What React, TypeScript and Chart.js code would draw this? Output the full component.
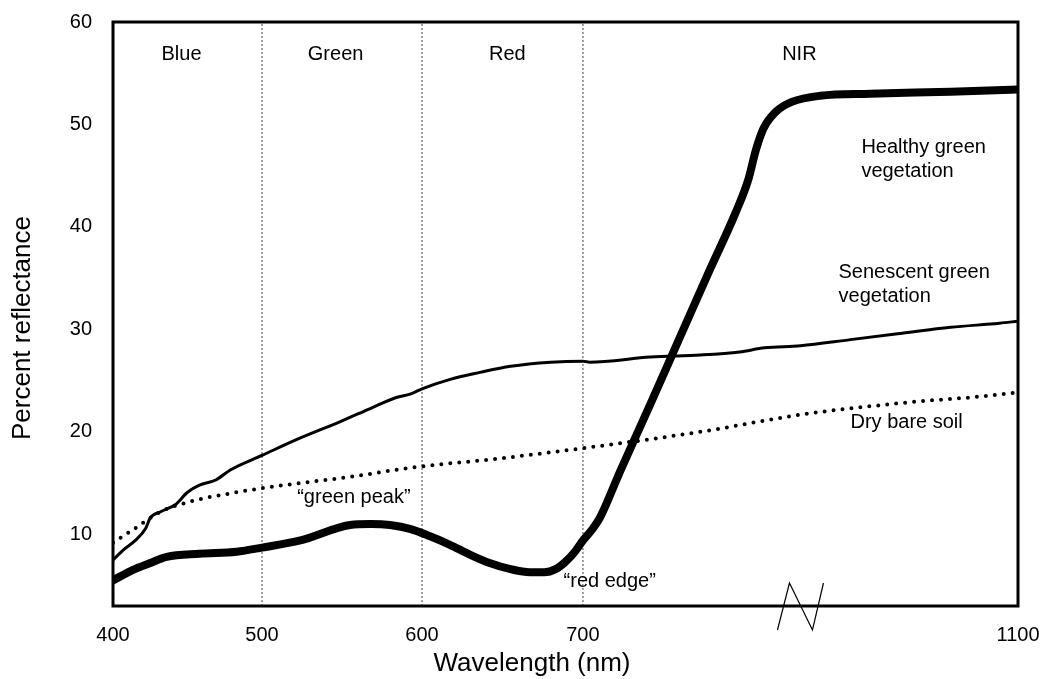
import React, { useEffect, useRef } from 'react';
import { Chart, registerables } from 'chart.js';

Chart.register(...registerables);

// ---------- axis definition ----------
const TICK_NM = [400, 500, 600, 700, 1100];
// relative length of each axis segment between the ticks (axis is broken after 700 nm)
const SEGMENT_POS = [0, 1, 2.074, 3.154, 6.074];
const Y_TICKS = [10, 20, 30, 40, 50, 60];
const Y_MIN = 3;
const Y_MAX = 60;
const BREAK_NM = 900;
const X_TITLE = 'Wavelength (nm)';
const Y_TITLE = 'Percent reflectance';

// ---------- band labels / dividers ----------
const BAND_NAMES = ['Blue', 'Green', 'Red', 'NIR'];
const BAND_LABEL_NM = [446, 546, 653, 899];
const BAND_LABEL_PCT = [56.8, 56.8, 56.8, 56.8];
const DIVIDER_NM = [500, 600, 700];

// ---------- series ----------
const HEALTHY_NM = [400, 413, 425, 436, 458, 483, 500, 524, 555, 568, 580, 593, 605, 617, 630, 642, 655, 667, 676, 683, 689, 695, 700, 708, 716, 734, 762, 789, 817, 840, 852, 859, 866, 877, 892, 918, 964, 1038, 1100];
const HEALTHY_PCT = [5.5, 6.5, 7.2, 7.8, 8.1, 8.3, 8.7, 9.4, 10.9, 11.0, 10.9, 10.5, 9.8, 9.0, 8.0, 7.2, 6.6, 6.3, 6.3, 6.6, 7.3, 8.3, 9.4, 10.4, 11.7, 16.1, 22.7, 29.2, 35.9, 41.3, 44.6, 47.5, 49.6, 51.2, 52.2, 52.8, 53.0, 53.2, 53.4];

const SENESCENT_NM = [400, 408, 415, 422, 425, 432, 442, 450, 458, 469, 479, 500, 524, 549, 568, 583, 593, 600, 617, 636, 655, 680, 700, 706, 762, 808, 844, 867, 900, 946, 992, 1038, 1083, 1100];
const SENESCENT_PCT = [7.5, 8.6, 9.4, 10.6, 11.6, 12.2, 12.9, 14.1, 14.8, 15.3, 16.3, 17.7, 19.4, 21.0, 22.3, 23.3, 23.7, 24.2, 25.1, 25.8, 26.4, 26.8, 26.9, 26.8, 27.3, 27.5, 27.8, 28.2, 28.4, 29.0, 29.6, 30.2, 30.6, 30.8];

const SOIL_NM = [400, 413, 432, 452, 479, 500, 524, 555, 593, 648, 700, 808, 902, 992, 1095, 1100];
const SOIL_PCT = [9.2, 10.4, 12.2, 13.2, 14.0, 14.5, 15.0, 15.6, 16.5, 17.4, 18.4, 20.0, 21.7, 22.8, 23.8, 23.9];

// ---------- annotations ----------
const NOTE_TEXT = ['Healthy green', 'vegetation', 'Senescent green', 'vegetation', 'Dry bare soil', '\u201Cgreen peak\u201D', '\u201Cred edge\u201D'];
const NOTE_NM = [956, 956, 935, 935, 946, 522, 688];
const NOTE_PCT = [47.8, 45.4, 35.6, 33.2, 20.9, 13.6, 5.4];

const FONT = '"Liberation Sans", Arial, Helvetica, sans-serif';

function toPos(nm: number): number {
  for (let i = 0; i < TICK_NM.length - 1; i++) {
    if (nm <= TICK_NM[i + 1] || i === TICK_NM.length - 2) {
      const f = (nm - TICK_NM[i]) / (TICK_NM[i + 1] - TICK_NM[i]);
      return SEGMENT_POS[i] + f * (SEGMENT_POS[i + 1] - SEGMENT_POS[i]);
    }
  }
  return 0;
}

function pts(xs: number[], ys: number[]) {
  return xs.map((v, i) => ({ x: toPos(v), y: ys[i] }));
}

const decorPlugin = {
  id: 'decor',
  afterDraw(chart: any) {
    const { ctx, chartArea: a, scales } = chart;
    const x = scales.x;
    const y = scales.y;
    ctx.save();
    // frame
    ctx.strokeStyle = '#000';
    ctx.lineWidth = 3;
    ctx.strokeRect(a.left, a.top, a.right - a.left, a.bottom - a.top);
    // axis break mark
    const bx = x.getPixelForValue(toPos(BREAK_NM));
    const by = a.bottom;
    ctx.lineWidth = 1.2;
    ctx.beginPath();
    ctx.moveTo(bx - 23, by + 24);
    ctx.lineTo(bx - 11, by - 23);
    ctx.lineTo(bx + 12, by + 24);
    ctx.lineTo(bx + 23, by - 23);
    ctx.stroke();
    // texts
    ctx.fillStyle = '#000';
    ctx.font = '20px ' + FONT;
    ctx.textBaseline = 'middle';
    ctx.textAlign = 'center';
    BAND_NAMES.forEach((t, i) => {
      ctx.fillText(t, x.getPixelForValue(toPos(BAND_LABEL_NM[i])), y.getPixelForValue(BAND_LABEL_PCT[i]));
    });
    ctx.textAlign = 'left';
    NOTE_TEXT.forEach((t, i) => {
      ctx.fillText(t, x.getPixelForValue(toPos(NOTE_NM[i])), y.getPixelForValue(NOTE_PCT[i]));
    });
    // axis titles
    ctx.textAlign = 'center';
    ctx.font = '26px ' + FONT;
    ctx.fillText(X_TITLE, a.left + 0.463 * (a.right - a.left), chart.height - 15);
    ctx.save();
    ctx.translate(23, a.top + 0.524 * (a.bottom - a.top));
    ctx.rotate(-Math.PI / 2);
    ctx.fillText(Y_TITLE, 0, 0);
    ctx.restore();
    ctx.restore();
  },
};

const hiddenGrid = (len: number) => ({
  display: true,
  drawOnChartArea: false,
  drawTicks: true,
  tickLength: len,
  color: 'rgba(0,0,0,0)',
});

export default function App() {
  const ref = useRef<HTMLCanvasElement | null>(null);

  useEffect(() => {
    if (!ref.current) return;
    Chart.defaults.font.family = FONT;
    Chart.defaults.color = '#000';

    const dividerSets = DIVIDER_NM.map((nm) => ({
      label: 'div' + nm,
      data: [{ x: toPos(nm), y: Y_MIN }, { x: toPos(nm), y: Y_MAX }],
      borderColor: '#444',
      borderWidth: 1,
      borderDash: [2, 2],
      pointRadius: 0,
      tension: 0,
    }));

    const chart = new Chart(ref.current, {
      type: 'line',
      data: {
        datasets: [
          {
            label: 'Healthy green vegetation',
            data: pts(HEALTHY_NM, HEALTHY_PCT),
            borderColor: '#000',
            borderWidth: 8,
            pointRadius: 0,
            cubicInterpolationMode: 'monotone',
            borderCapStyle: 'round',
            borderJoinStyle: 'round',
          },
          {
            label: 'Senescent green vegetation',
            data: pts(SENESCENT_NM, SENESCENT_PCT),
            borderColor: '#000',
            borderWidth: 3,
            pointRadius: 0,
            cubicInterpolationMode: 'monotone',
          },
          {
            label: 'Dry bare soil',
            data: pts(SOIL_NM, SOIL_PCT),
            borderColor: '#000',
            borderWidth: 4,
            borderDash: [0, 9],
            borderCapStyle: 'round',
            pointRadius: 0,
            cubicInterpolationMode: 'monotone',
          },
          ...dividerSets,
        ],
      } as any,
      options: {
        animation: false,
        responsive: false,
        layout: { padding: { top: 22, right: 30, left: 0, bottom: 0 } },
        plugins: { legend: { display: false }, tooltip: { enabled: false } },
        scales: {
          x: {
            type: 'linear',
            min: 0,
            max: SEGMENT_POS[SEGMENT_POS.length - 1],
            grid: hiddenGrid(17),
            border: { display: false },
            afterBuildTicks: (s: any) => {
              s.ticks = TICK_NM.map((v) => ({ value: toPos(v) }));
            },
            afterFit: (s: any) => {
              s.height = 73;
            },
            ticks: {
              autoSkip: false,
              maxRotation: 0,
              padding: 0,
              color: '#000',
              font: { size: 20 },
              callback: (_v: any, i: number) => String(TICK_NM[i]),
            },
            title: { display: false },
          },
          y: {
            type: 'linear',
            min: Y_MIN,
            max: Y_MAX,
            grid: hiddenGrid(21),
            border: { display: false },
            afterBuildTicks: (s: any) => {
              s.ticks = Y_TICKS.map((v) => ({ value: v }));
            },
            afterFit: (s: any) => {
              s.width = 113;
            },
            ticks: {
              padding: 0,
              color: '#000',
              font: { size: 20 },
            },
            title: { display: false },
          },
        },
      } as any,
      plugins: [decorPlugin],
    });
    return () => chart.destroy();
  }, []);

  return (
    <div style={{ position: 'fixed', left: 0, top: 0, width: 1048, height: 679, background: '#fff' }}>
      <canvas ref={ref} width={1048} height={679} />
    </div>
  );
}
